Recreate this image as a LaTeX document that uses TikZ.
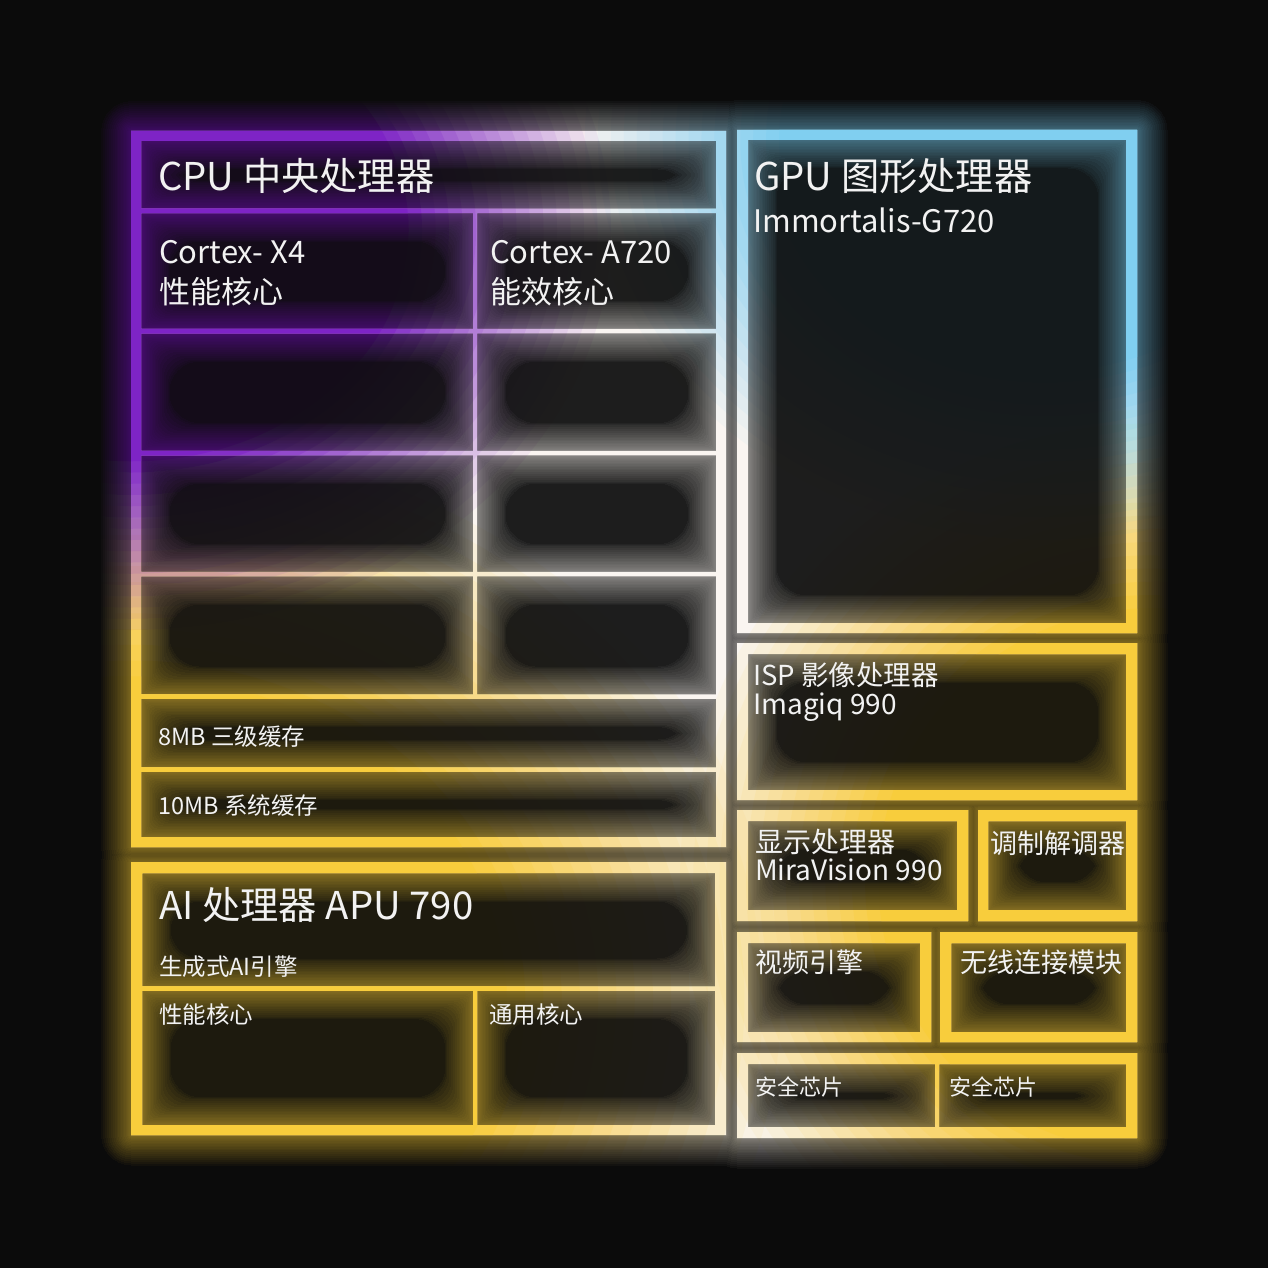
\documentclass[tikz,border=0pt]{standalone}
\usepackage{fontspec}
\setmainfont{Noto Sans CJK SC}
\definecolor{cbg}{HTML}{0B0B0B}
\definecolor{cbase}{HTML}{FAF5F1}
\definecolor{cyel}{HTML}{F8CD3C}
\definecolor{cpur}{HTML}{7E24C6}
\definecolor{cblu}{HTML}{80CFF0}
\definecolor{ctxt}{HTML}{F2F2F2}
% outer box (clockwise), dilated by #5
\newcommand\Bx[5]{(#1-#5,#2-#5) -- (#3+#5,#2-#5) -- (#3+#5,#4+#5) -- (#1-#5,#4+#5) -- cycle }
% cell hole (counter-clockwise), shrunk by #5
\newcommand\Cl[5]{(#1+#5,#2+#5) -- (#1+#5,#4-#5) -- (#3-#5,#4-#5) -- (#3-#5,#2+#5) -- cycle }
\newcommand\boxes[1]{%
 \Bx{131}{131}{726}{847}{#1}
 \Bx{131}{862}{726}{1135}{#1}
 \Bx{737}{130}{1137}{633}{#1}
 \Bx{737}{643}{1137}{800}{#1}
 \Bx{737}{810}{968}{921}{#1}
 \Bx{978}{810}{1137}{921}{#1}
 \Bx{737}{932}{931}{1042}{#1}
 \Bx{940}{932}{1137}{1042}{#1}
 \Bx{737}{1053}{1137}{1138}{#1}
}
\newcommand\cells[1]{%
 \Cl{141}{141}{716}{208.5}{#1}
 \Cl{141}{213}{473}{328.75}{#1}
 \Cl{477}{213}{716}{328.75}{#1}
 \Cl{141}{333.25}{473}{450.75}{#1}
 \Cl{477}{333.25}{716}{450.75}{#1}
 \Cl{141}{455.25}{473}{571.75}{#1}
 \Cl{477}{455.25}{716}{571.75}{#1}
 \Cl{141}{576.25}{473}{694.25}{#1}
 \Cl{477}{576.25}{716}{694.25}{#1}
 \Cl{141}{698.75}{716}{767.25}{#1}
 \Cl{141}{771.75}{716}{837}{#1}
 \Cl{142}{873}{715}{986.25}{#1}
 \Cl{142}{990.75}{473}{1125}{#1}
 \Cl{477}{990.75}{715}{1125}{#1}
 \Cl{748}{140}{1126}{623}{#1}
 \Cl{748}{654}{1126}{790}{#1}
 \Cl{748}{821}{957}{910}{#1}
 \Cl{988}{821}{1126}{910}{#1}
 \Cl{748}{943}{920}{1032}{#1}
 \Cl{951}{943}{1126}{1032}{#1}
 \Cl{748}{1064}{935}{1127}{#1}
 \Cl{939}{1064}{1126}{1127}{#1}
}
% soft colour spot: opaque core (55%), linear fall-off to the rim, 16 rings
\newcommand\spot[5]{%
  \foreach \jj in {1,...,16} {
    \pgfmathsetmacro\op{1/(17-\jj)}
    \pgfmathsetmacro\sc{1-(\jj-1)*0.45/16}
    \fill[#1, opacity=\op] (#2,#3) ellipse [x radius={\sc*#4 pt}, y radius={\sc*#5 pt}];
  }%
}
\newcommand\paintgrad{%
  \fill[cbase] (0,0) rectangle (1268,1268);
  \spot{cyel}{131}{1000}{650}{560}
  \spot{cyel}{1150}{880}{470}{470}
  \spot{cpur}{131}{230}{480}{400}
  \spot{cblu}{1045}{140}{460}{400}
}
\begin{document}
\begin{tikzpicture}[x=1pt,y=-1pt,
  lbl/.style={text=ctxt, inner sep=0pt, anchor=base west},
  fbig/.style={font=\fontsize{38.3}{40}\selectfont},
  fmid/.style={font=\fontsize{31}{34}\selectfont},
  fisp/.style={font=\fontsize{28}{32}\selectfont},
  fsml/.style={font=\fontsize{23.5}{26}\selectfont}]
\useasboundingbox (0,0) rectangle (1268,1268);
\fill[cbg] (0,0) rectangle (1268,1268);
% faint tint inside all boxes
\begin{scope}
  \clip \boxes{0};
  \begin{scope}[transparency group, opacity=0.08]
    \paintgrad
  \end{scope}
\end{scope}
% glow levels
\foreach \dd/\ee in {30/28, 28/27, 26/26, 24/24, 22/22, 20/20, 18/18, 16/16, 14.5/14.5, 13/13, 11.5/11.5, 10/10, 8.5/8.5, 7/7, 5.5/5.5, 4/4, 3/3, 2/2, 1/1} {
  \begin{scope}
    \clip[rounded corners=\dd] \boxes{\dd} \cells{\ee};
    \begin{scope}[transparency group, opacity=0.036]
      \paintgrad
    \end{scope}
  \end{scope}
}
% sharp borders
\begin{scope}
  \clip \boxes{0} \cells{0};
  \paintgrad
\end{scope}
% CPU
\node[lbl, fbig] (cputitle) at (158,190) {CPU 中央处理器};
\node[lbl, fmid] (x4a) at (159,263) {Cortex- X4};
\node[lbl, fmid] (x4b) at (159,303) {性能核心};
\node[lbl, fmid] (a720a) at (490,263) {Cortex- A720};
\node[lbl, fmid] (a720b) at (490,303) {能效核心};
\node[lbl, fsml] (l3) at (158,745) {8MB 三级缓存};
\node[lbl, fsml] (slc) at (158,814) {10MB 系统缓存};
% AI
\node[lbl, fbig] (aititle) at (159,919) {AI 处理器 APU 790};
\node[lbl, fsml] (genai) at (159,975) {生成式AI引擎};
\node[lbl, fsml] (aiperf) at (159,1023) {性能核心};
\node[lbl, fsml] (aigen) at (489,1023) {通用核心};
% GPU
\node[lbl, fbig] (gputitle) at (754,190) {GPU 图形处理器};
\node[lbl, fmid] (gpuname) at (753,233) {Immortalis-G720};
% ISP
\node[lbl, font=\fontsize{27.5}{31}\selectfont] (isp) at (753,685) {ISP 影像处理器};
\node[lbl, fisp] (ispname) at (753,714) {Imagiq 990};
% display / modem
\node[lbl, fisp] (disp) at (755,852) {显示处理器};
\node[lbl, fisp] (dispname) at (755,880) {MiraVision 990};
\node[lbl, font=\fontsize{27}{30}\selectfont] (modem) at (990,853) {调制解调器};
% video / wireless
\node[lbl, font=\fontsize{27}{30}\selectfont] (video) at (755,972) {视频引擎};
\node[lbl, font=\fontsize{27}{30}\selectfont] (wifi) at (960,972) {无线连接模块};
% security
\node[lbl, font=\fontsize{22}{25}\selectfont] (sec1) at (755,1095) {安全芯片};
\node[lbl, font=\fontsize{22}{25}\selectfont] (sec2) at (949,1095) {安全芯片};
\end{tikzpicture}
\end{document}
